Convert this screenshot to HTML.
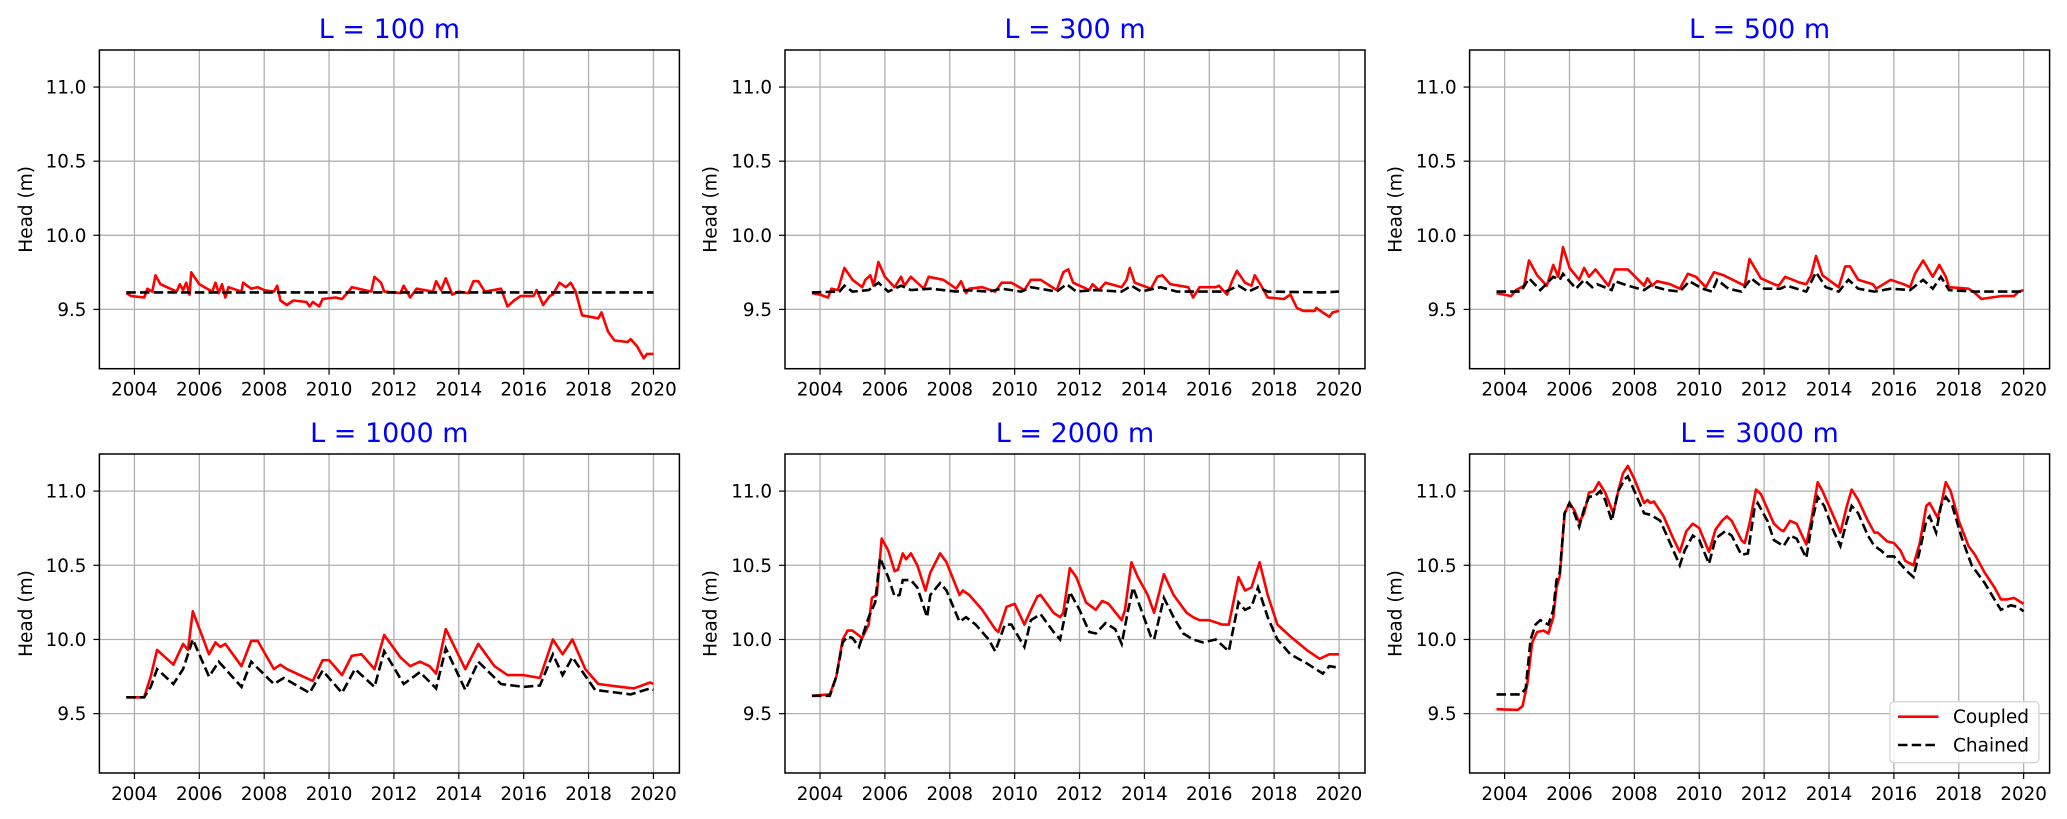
<!DOCTYPE html>
<html><head><meta charset="utf-8"><style>
html,body{margin:0;padding:0;background:#fff;}
svg{display:block;font-family:"DejaVu Sans","Liberation Sans",sans-serif;}
</style></head><body>
<svg id="fig" width="2067" height="819" viewBox="0 0 2067 819" xmlns="http://www.w3.org/2000/svg"></svg>
<script>
const panelTitles = ["L = 100 m","L = 300 m","L = 500 m","L = 1000 m","L = 2000 m","L = 3000 m"];
const xTicks = [2004,2006,2008,2010,2012,2014,2016,2018,2020];
const yTicks = [9.5,10.0,10.5,11.0];
const yTickLabels = ["9.5","10.0","10.5","11.0"];

const yrs100c = [2003.75,2003.9,2004.3,2004.4,2004.55,2004.65,2004.8,2005.3,2005.4,2005.5,2005.6,2005.7,2005.75,2006.0,2006.4,2006.5,2006.6,2006.7,2006.8,2006.9,2007.3,2007.35,2007.6,2007.8,2008.0,2008.3,2008.4,2008.5,2008.7,2008.9,2009.3,2009.4,2009.5,2009.7,2009.8,2010.2,2010.4,2010.6,2010.7,2011.3,2011.4,2011.6,2011.7,2012.2,2012.3,2012.5,2012.7,2013.2,2013.3,2013.45,2013.6,2013.8,2014.0,2014.3,2014.45,2014.6,2014.8,2015.3,2015.5,2015.7,2015.9,2016.3,2016.4,2016.6,2016.8,2016.9,2017.1,2017.3,2017.45,2017.6,2017.8,2018.3,2018.4,2018.6,2018.8,2019.2,2019.3,2019.5,2019.7,2019.8,2020.0];
const head100c = [9.61,9.59,9.58,9.64,9.62,9.73,9.67,9.62,9.67,9.63,9.68,9.6,9.75,9.67,9.62,9.68,9.61,9.67,9.58,9.65,9.62,9.68,9.64,9.65,9.63,9.62,9.66,9.56,9.53,9.56,9.55,9.52,9.55,9.52,9.57,9.58,9.57,9.62,9.65,9.62,9.72,9.68,9.62,9.61,9.66,9.58,9.64,9.62,9.69,9.63,9.71,9.6,9.62,9.61,9.69,9.69,9.62,9.64,9.52,9.56,9.59,9.59,9.63,9.53,9.59,9.6,9.68,9.65,9.68,9.62,9.46,9.44,9.48,9.35,9.29,9.28,9.3,9.25,9.17,9.2,9.2];
const yrs100h = [2003.75,2020.0];
const head100h = [9.615,9.615];

const yrs300c = [2003.75,2004.0,2004.25,2004.35,2004.55,2004.75,2005.0,2005.3,2005.4,2005.55,2005.65,2005.8,2006.0,2006.3,2006.5,2006.6,2006.8,2007.2,2007.35,2007.8,2008.2,2008.35,2008.5,2008.6,2009.0,2009.4,2009.6,2009.9,2010.3,2010.5,2010.8,2011.3,2011.5,2011.65,2011.8,2012.3,2012.4,2012.6,2012.8,2013.3,2013.45,2013.55,2013.7,2014.2,2014.4,2014.55,2014.8,2015.35,2015.5,2015.7,2016.2,2016.3,2016.55,2016.7,2016.85,2017.1,2017.3,2017.4,2017.6,2017.8,2018.3,2018.5,2018.7,2018.9,2019.25,2019.3,2019.5,2019.7,2019.8,2020.0];
const head300c = [9.61,9.6,9.58,9.64,9.63,9.78,9.7,9.65,9.7,9.73,9.66,9.82,9.72,9.65,9.72,9.66,9.72,9.64,9.72,9.7,9.64,9.69,9.61,9.64,9.65,9.62,9.68,9.68,9.63,9.7,9.7,9.63,9.75,9.77,9.68,9.63,9.67,9.63,9.68,9.65,9.7,9.78,9.68,9.64,9.72,9.73,9.67,9.65,9.58,9.65,9.65,9.66,9.6,9.69,9.76,9.68,9.66,9.73,9.66,9.58,9.57,9.6,9.51,9.49,9.49,9.51,9.48,9.45,9.48,9.49];
const yrs300h = [2003.75,2004.6,2004.75,2005.0,2005.5,2005.8,2006.1,2006.5,2006.8,2007.4,2007.8,2008.2,2008.5,2009.2,2009.6,2010.2,2010.5,2011.3,2011.6,2011.9,2012.5,2013.3,2013.6,2013.9,2014.5,2015.0,2016.5,2016.9,2017.2,2017.5,2017.8,2019.5,2020.0];
const head300h = [9.615,9.62,9.66,9.62,9.63,9.68,9.62,9.66,9.63,9.64,9.63,9.62,9.63,9.62,9.64,9.62,9.65,9.62,9.67,9.62,9.63,9.62,9.66,9.62,9.65,9.62,9.62,9.66,9.62,9.65,9.62,9.615,9.62];

const yrs500c = [2003.75,2004.2,2004.35,2004.6,2004.75,2005.0,2005.3,2005.5,2005.65,2005.8,2006.0,2006.3,2006.45,2006.6,2006.8,2007.2,2007.4,2007.8,2008.3,2008.4,2008.55,2008.7,2009.1,2009.4,2009.65,2009.9,2010.2,2010.45,2010.75,2011.4,2011.55,2011.9,2012.3,2012.45,2012.65,2013.1,2013.3,2013.45,2013.6,2013.8,2014.3,2014.5,2014.65,2014.9,2015.35,2015.45,2015.9,2016.3,2016.5,2016.65,2016.9,2017.2,2017.4,2017.6,2017.7,2018.3,2018.5,2018.7,2019.0,2019.3,2019.7,2019.85,2020.0];
const head500c = [9.61,9.59,9.63,9.66,9.83,9.73,9.66,9.8,9.72,9.92,9.78,9.7,9.78,9.72,9.77,9.66,9.77,9.77,9.66,9.71,9.66,9.69,9.67,9.64,9.74,9.72,9.65,9.75,9.73,9.66,9.84,9.71,9.67,9.66,9.72,9.68,9.67,9.73,9.86,9.73,9.65,9.79,9.79,9.7,9.67,9.64,9.7,9.67,9.65,9.74,9.83,9.72,9.8,9.72,9.65,9.64,9.61,9.57,9.58,9.59,9.59,9.62,9.63];
const yrs500h = [2003.75,2004.5,2004.75,2005.1,2005.5,2005.7,2005.8,2006.2,2006.45,2006.7,2006.85,2007.3,2007.4,2007.8,2008.3,2008.5,2009.0,2009.4,2009.7,2010.1,2010.4,2010.55,2010.9,2011.3,2011.6,2012.0,2012.5,2012.7,2013.3,2013.6,2013.9,2014.3,2014.6,2014.9,2015.4,2015.9,2016.5,2016.9,2017.2,2017.45,2017.7,2018.5,2020.0];
const head500h = [9.62,9.62,9.71,9.63,9.72,9.7,9.74,9.64,9.7,9.65,9.67,9.63,9.69,9.66,9.63,9.66,9.63,9.62,9.69,9.64,9.62,9.7,9.64,9.62,9.71,9.64,9.64,9.66,9.62,9.75,9.65,9.62,9.7,9.64,9.62,9.64,9.63,9.7,9.64,9.72,9.63,9.62,9.62];

const yrs1000c = [2003.75,2004.3,2004.5,2004.7,2005.2,2005.5,2005.65,2005.8,2006.3,2006.5,2006.65,2006.8,2007.3,2007.6,2007.8,2008.3,2008.5,2008.7,2009.0,2009.5,2009.8,2010.0,2010.4,2010.7,2011.0,2011.4,2011.7,2012.2,2012.5,2012.8,2013.1,2013.3,2013.6,2014.2,2014.6,2015.1,2015.5,2016.0,2016.5,2016.9,2017.2,2017.5,2017.9,2018.3,2019.0,2019.4,2019.9,2020.0];
const head1000c = [9.61,9.61,9.75,9.93,9.83,9.97,9.93,10.19,9.9,9.98,9.95,9.97,9.82,9.99,9.99,9.8,9.83,9.8,9.77,9.72,9.86,9.86,9.76,9.89,9.9,9.8,10.03,9.88,9.82,9.85,9.82,9.77,10.07,9.8,9.97,9.82,9.76,9.76,9.74,10.0,9.9,10.0,9.8,9.7,9.68,9.67,9.71,9.7];
const yrs1000h = [2003.75,2004.3,2004.5,2004.7,2005.2,2005.5,2005.8,2006.3,2006.6,2007.3,2007.6,2008.3,2008.6,2009.4,2009.8,2010.4,2010.8,2011.4,2011.7,2012.3,2012.8,2013.3,2013.6,2014.2,2014.6,2015.3,2016.0,2016.5,2016.9,2017.2,2017.5,2018.2,2019.3,2019.9,2020.0];
const head1000h = [9.61,9.61,9.68,9.8,9.7,9.8,10.0,9.75,9.85,9.68,9.85,9.7,9.74,9.64,9.79,9.64,9.8,9.68,9.92,9.7,9.78,9.67,9.94,9.66,9.85,9.7,9.68,9.69,9.9,9.76,9.88,9.66,9.63,9.67,9.66];

const yrs2000c = [2003.75,2004.3,2004.5,2004.7,2004.85,2005.0,2005.3,2005.5,2005.6,2005.75,2005.9,2006.1,2006.3,2006.4,2006.55,2006.65,2006.8,2007.0,2007.25,2007.4,2007.7,2007.9,2008.3,2008.4,2008.6,2009.0,2009.4,2009.5,2009.75,2010.0,2010.3,2010.5,2010.7,2010.8,2011.2,2011.4,2011.5,2011.7,2011.9,2012.2,2012.5,2012.7,2012.9,2013.3,2013.4,2013.6,2013.8,2014.1,2014.3,2014.6,2014.9,2015.3,2015.5,2015.7,2016.0,2016.4,2016.6,2016.9,2017.1,2017.3,2017.55,2017.8,2018.1,2018.5,2019.0,2019.4,2019.7,2020.0];
const head2000c = [9.62,9.63,9.75,10.0,10.06,10.06,10.01,10.1,10.28,10.3,10.68,10.6,10.46,10.47,10.58,10.54,10.58,10.5,10.33,10.45,10.58,10.52,10.3,10.33,10.3,10.2,10.07,10.05,10.22,10.24,10.1,10.2,10.29,10.3,10.18,10.15,10.18,10.48,10.42,10.25,10.2,10.26,10.24,10.13,10.2,10.52,10.42,10.3,10.18,10.44,10.3,10.18,10.15,10.13,10.13,10.1,10.1,10.42,10.33,10.35,10.52,10.3,10.1,10.02,9.93,9.87,9.9,9.9];
const yrs2000h = [2003.75,2004.3,2004.5,2004.7,2004.85,2005.0,2005.2,2005.5,2005.7,2005.85,2006.1,2006.3,2006.45,2006.55,2006.8,2007.0,2007.3,2007.4,2007.7,2007.9,2008.3,2008.5,2008.8,2009.2,2009.4,2009.7,2009.9,2010.3,2010.5,2010.8,2011.2,2011.4,2011.7,2012.0,2012.3,2012.5,2012.8,2013.1,2013.3,2013.5,2013.65,2013.9,2014.2,2014.3,2014.6,2014.9,2015.2,2015.5,2015.8,2016.2,2016.6,2016.9,2017.1,2017.3,2017.5,2017.8,2018.1,2018.5,2019.0,2019.5,2019.7,2020.0];
const head2000h = [9.62,9.62,9.75,9.98,10.02,10.01,9.95,10.15,10.25,10.55,10.42,10.29,10.3,10.4,10.4,10.35,10.15,10.3,10.38,10.33,10.12,10.15,10.1,10.0,9.92,10.1,10.1,9.95,10.13,10.17,10.05,10.0,10.32,10.2,10.05,10.04,10.11,10.07,9.97,10.2,10.35,10.2,10.02,10.0,10.28,10.15,10.04,10.0,9.98,10.0,9.92,10.25,10.2,10.22,10.35,10.15,10.0,9.9,9.84,9.77,9.82,9.81];

const yrs3000c = [2003.75,2004.4,2004.55,2004.7,2004.85,2005.0,2005.2,2005.35,2005.5,2005.6,2005.7,2005.85,2006.0,2006.15,2006.3,2006.45,2006.6,2006.75,2006.9,2007.1,2007.35,2007.5,2007.65,2007.8,2008.0,2008.3,2008.4,2008.5,2008.6,2008.9,2009.2,2009.4,2009.6,2009.8,2010.0,2010.3,2010.5,2010.7,2010.85,2011.0,2011.3,2011.4,2011.55,2011.75,2011.9,2012.3,2012.5,2012.6,2012.8,2013.0,2013.3,2013.45,2013.65,2013.8,2014.2,2014.35,2014.55,2014.7,2014.9,2015.2,2015.4,2015.5,2015.8,2016.0,2016.2,2016.35,2016.6,2016.8,2017.0,2017.1,2017.35,2017.45,2017.6,2017.75,2018.0,2018.3,2018.5,2018.8,2019.1,2019.3,2019.5,2019.7,2020.0];
const head3000c = [9.53,9.525,9.55,9.7,9.98,10.05,10.06,10.04,10.15,10.35,10.43,10.85,10.92,10.87,10.79,10.85,10.99,11.0,11.06,10.99,10.85,11.0,11.12,11.17,11.08,10.92,10.94,10.92,10.93,10.83,10.68,10.59,10.73,10.78,10.75,10.59,10.74,10.8,10.83,10.8,10.67,10.65,10.78,11.01,10.98,10.78,10.74,10.73,10.8,10.78,10.64,10.8,11.06,11.0,10.8,10.72,10.9,11.01,10.94,10.8,10.72,10.72,10.66,10.65,10.6,10.53,10.5,10.65,10.9,10.92,10.82,10.9,11.06,11.0,10.8,10.63,10.57,10.45,10.35,10.27,10.27,10.28,10.24];
const yrs3000h = [2003.75,2004.5,2004.65,2004.8,2004.95,2005.1,2005.35,2005.5,2005.6,2005.7,2005.85,2006.0,2006.15,2006.3,2006.45,2006.6,2006.8,2006.95,2007.1,2007.3,2007.5,2007.7,2007.8,2008.0,2008.3,2008.5,2008.8,2009.1,2009.4,2009.55,2009.8,2010.0,2010.3,2010.5,2010.8,2011.0,2011.3,2011.5,2011.7,2011.8,2012.1,2012.3,2012.6,2012.8,2013.0,2013.3,2013.5,2013.65,2013.85,2014.1,2014.35,2014.55,2014.7,2014.9,2015.2,2015.4,2015.6,2015.8,2016.0,2016.4,2016.6,2016.8,2017.0,2017.1,2017.3,2017.45,2017.6,2017.8,2018.1,2018.4,2018.8,2019.1,2019.3,2019.6,2019.8,2020.0];
const head3000h = [9.63,9.63,9.67,10.0,10.1,10.13,10.1,10.2,10.4,10.45,10.85,10.92,10.85,10.76,10.88,10.96,10.97,11.0,10.94,10.8,11.0,11.08,11.1,11.0,10.85,10.84,10.8,10.65,10.5,10.6,10.7,10.67,10.51,10.68,10.73,10.7,10.57,10.58,10.88,10.92,10.8,10.67,10.63,10.7,10.68,10.55,10.82,10.96,10.9,10.75,10.63,10.8,10.9,10.85,10.7,10.63,10.6,10.56,10.56,10.46,10.42,10.6,10.8,10.83,10.72,10.9,10.96,10.9,10.68,10.5,10.38,10.27,10.2,10.23,10.22,10.19];

const coupledYears = [yrs100c,yrs300c,yrs500c,yrs1000c,yrs2000c,yrs3000c];
const coupledHeads = [head100c,head300c,head500c,head1000c,head2000c,head3000c];
const chainedYears = [yrs100h,yrs300h,yrs500h,yrs1000h,yrs2000h,yrs3000h];
const chainedHeads = [head100h,head300h,head500h,head1000h,head2000h,head3000h];

const NS = "http://www.w3.org/2000/svg";
const svg = document.getElementById('fig');
function mk(tag, attrs, parent){
  const e = document.createElementNS(NS, tag);
  for (const k in attrs) e.setAttribute(k, attrs[k]);
  (parent||svg).appendChild(e);
  return e;
}
const colLeft = [99.4, 785, 1469.6];
const axW = 580;
const rowTop = [50, 454];
const rowBot = [368.7, 773];
const X0 = 2002.92, X1 = 2020.8; // x limits
const Y0 = 9.1, Y1 = 11.25;     // y limits

for (let p = 0; p < 6; p++) {
  const c = p % 3, r = Math.floor(p / 3);
  const L = colLeft[c], R = L + axW, T = rowTop[r], B = rowBot[r];
  const xs = v => L + (v - X0) / (X1 - X0) * (R - L);
  const ys = v => B - (v - Y0) / (Y1 - Y0) * (B - T);
  const g = mk('g', {});
  
  

  // grid
  xTicks.forEach(t => {
    const ln = mk('line', {x1: xs(t), x2: xs(t), y1: T, y2: B, stroke: '#b0b0b0', 'stroke-width': 1.3}, g);
    
    
    const tk = mk('line', {x1: xs(t), x2: xs(t), y1: B, y2: B + 6, stroke: '#000', 'stroke-width': 1.2}, g);
    
    
    const tx = mk('text', {x: xs(t), y: B + 27, 'text-anchor': 'middle', 'font-size': 18.3, fill: '#000'}, g);
    tx.textContent = String(t);
    
    
  });
  yTicks.forEach((t, i) => {
    const ln = mk('line', {x1: L, x2: R, y1: ys(t), y2: ys(t), stroke: '#b0b0b0', 'stroke-width': 1.3}, g);
    
    
    const tk = mk('line', {x1: L - 6, x2: L, y1: ys(t), y2: ys(t), stroke: '#000', 'stroke-width': 1.2}, g);
    
    
    const tx = mk('text', {x: L - 13, y: ys(t) + 6.5, 'text-anchor': 'end', 'font-size': 18.3, fill: '#000'}, g);
    tx.textContent = yTickLabels[i];
    
    
  });

  // series
  const path = (xa, ya) => xa.map((v, i) => (i ? 'L' : 'M') + xs(v).toFixed(1) + ',' + ys(ya[i]).toFixed(1)).join('');
  const red = mk('path', {d: path(coupledYears[p], coupledHeads[p]), fill: 'none', stroke: '#ff0000', 'stroke-width': 2.6, 'stroke-linejoin': 'round'}, g);
  
  
  const blk = mk('path', {d: path(chainedYears[p], chainedHeads[p]), fill: 'none', stroke: '#000', 'stroke-width': 2.6, 'stroke-dasharray': '9.5,4.2'}, g);
  
  

  // spines
  const fr = mk('rect', {x: L, y: T, width: R - L, height: B - T, fill: 'none', stroke: '#000', 'stroke-width': 1.5}, g);
  
  

  // title
  const ti = mk('text', {x: (L + R) / 2, y: T - 12, 'text-anchor': 'middle', 'font-size': 27, fill: '#0000ff'}, g);
  ti.textContent = panelTitles[p];
  
  

  // y label
  const lx = [25.5, 710, 1395][c] + 6.5, ly = (T + B) / 2;
  const yl = mk('text', {x: lx, y: ly, 'text-anchor': 'middle', 'font-size': 18.5, fill: '#000', transform: 'rotate(-90 ' + lx + ' ' + ly + ')'}, g);
  yl.textContent = 'Head (m)';
  
  
}

// legend
const lg = mk('g', {});


mk('rect', {x: 1890, y: 701.7, width: 149, height: 61, rx: 4, fill: 'rgba(255,255,255,0.85)', stroke: '#d6d6d6', 'stroke-width': 1.3}, lg);
const e1 = mk('line', {x1: 1898, x2: 1938.5, y1: 716.7, y2: 716.7, stroke: '#ff0000', 'stroke-width': 2.6}, lg);


const t1 = mk('text', {x: 1953, y: 723, 'font-size': 18.5, fill: '#000'}, lg);
t1.textContent = 'Coupled';


const e2 = mk('line', {x1: 1898, x2: 1938.5, y1: 745, y2: 745, stroke: '#000', 'stroke-width': 2.6, 'stroke-dasharray': '9.5,4.2'}, lg);


const t2 = mk('text', {x: 1953, y: 751.5, 'font-size': 18.5, fill: '#000'}, lg);
t2.textContent = 'Chained';


</script>
</body></html>
